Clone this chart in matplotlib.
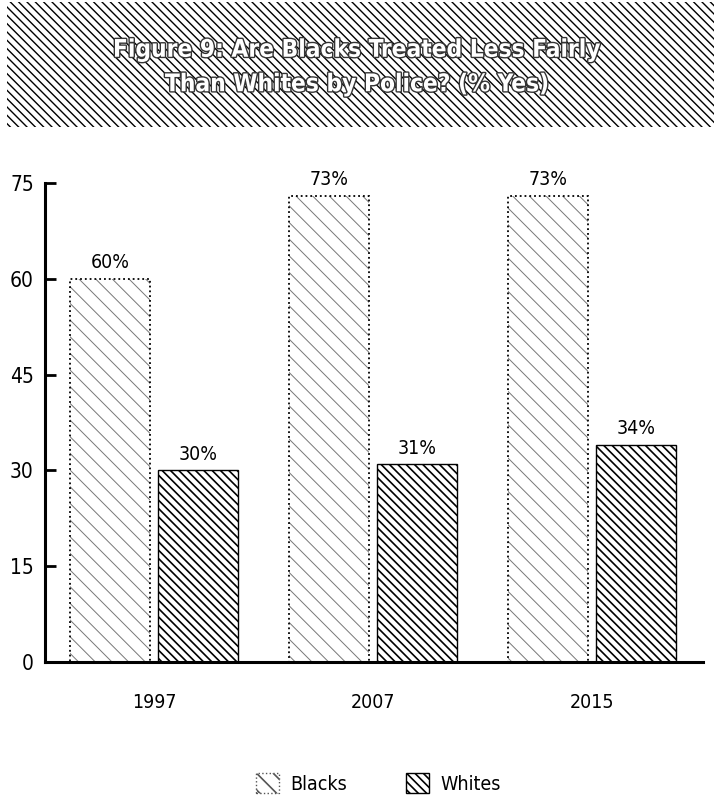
import matplotlib
matplotlib.use("Agg")
import matplotlib.pyplot as plt
import matplotlib.patheffects as pe
from matplotlib.patches import Rectangle, Patch
import numpy as np

plt.rcParams['font.family'] = ['DejaVu Sans']
plt.rcParams['font.stretch'] = 'condensed'

years = ['1997', '2007', '2015']
blacks = [60, 73, 73]
whites = [30, 31, 34]
title = 'Figure 9: Are Blacks Treated Less Fairly\nThan Whites by Police? (% Yes)'

fig = plt.figure(figsize=(7.14, 8.07), dpi=100)

# hatched title banner
fig.patches.append(Rectangle((0.01, 0.843), 0.99, 0.154, transform=fig.transFigure,
                             facecolor='white', edgecolor='black', linewidth=0,
                             hatch='\\\\\\\\', zorder=0))
fig.text(0.5, 0.917, title, ha='center', va='center', color='white',
         fontsize=17.5, fontweight='bold', linespacing=1.55,
         path_effects=[pe.withStroke(linewidth=2, foreground='#333333')])

ax = fig.add_axes([0.063, 0.1797, 0.922, 0.5935])
x = np.arange(len(years))
w = 0.365
off = 0.2

plt.rcParams['hatch.linewidth'] = 0.7
ax.bar(x - off, blacks, w, color='white', edgecolor='#777777', linewidth=0,
       hatch='\\\\')
ax.bar(x - off, blacks, w, color='none', edgecolor='black', linewidth=1.3,
       linestyle=':')
plt.rcParams['hatch.linewidth'] = 1.2
ax.bar(x + off, whites, w, color='white', edgecolor='black', linewidth=1,
       hatch='\\\\\\\\')

for xi, v in zip(x - off, blacks):
    ax.text(xi, v + 1, f'{v}%', ha='center', va='bottom', fontsize=14)
for xi, v in zip(x + off, whites):
    ax.text(xi, v + 1, f'{v}%', ha='center', va='bottom', fontsize=14)

ax.set_xlim(-0.498, 2.507)
ax.set_ylim(0, 75)
ax.set_yticks([0, 15, 30, 45, 60, 75])
ax.set_xticks(x)
ax.set_xticklabels(years)
ax.tick_params(axis='y', direction='in', length=8, width=2, labelsize=15, pad=8)
ax.tick_params(axis='x', length=0, labelsize=14, pad=22)
for s in ['top', 'right']:
    ax.spines[s].set_visible(False)
for s in ['left', 'bottom']:
    ax.spines[s].set_linewidth(2.2)

plt.rcParams['hatch.linewidth'] = 1.2
handles = [Patch(facecolor='white', edgecolor='#555555', linestyle=':', hatch='\\\\'),
           Patch(facecolor='white', edgecolor='black', hatch='\\\\\\\\')]
fig.legend(handles, ['Blacks', 'Whites'], loc='lower center', bbox_to_anchor=(0.53, -0.005),
           ncol=2, frameon=False, fontsize=14, handlelength=1.2, handleheight=1.2,
           columnspacing=3, handletextpad=0.6)

fig.savefig('out.png', dpi=100)
